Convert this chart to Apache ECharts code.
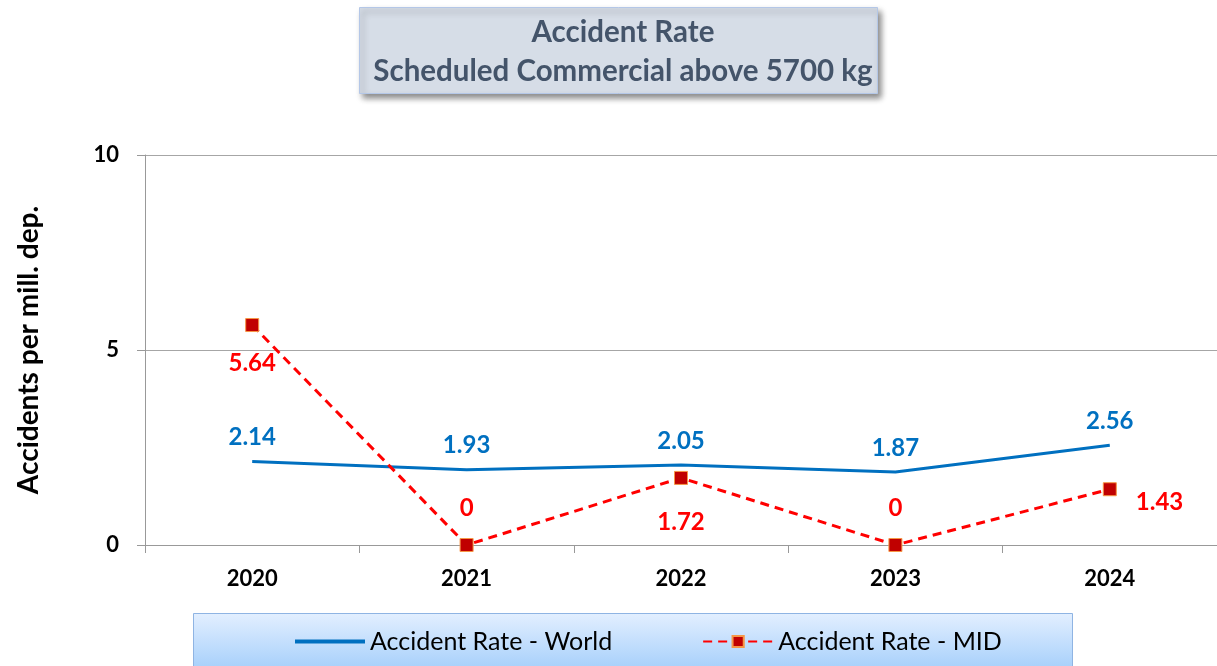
<!DOCTYPE html>
<html><head><meta charset="utf-8">
<script src="https://cdn.jsdelivr.net/npm/echarts@6/dist/echarts.min.js"></script>
<style>html,body{margin:0;padding:0;background:#fff}#c{width:1217px;height:666px}</style>
</head><body><div id="c"></div>
<script>
var years = ['2020','2021','2022','2023','2024'];
var worldRate = [2.14, 1.93, 2.05, 1.87, 2.56];
var midRate = [5.64, 0, 1.72, 0, 1.43];
var yTicks = [0, 5, 10];
var seriesNames = ['Accident Rate - World', 'Accident Rate - MID'];
var titleLines = ['Accident Rate', 'Scheduled Commercial above 5700 kg'];

var FONT = 'Lato, "Open Sans", sans-serif';
var midLabelPos = ['bottom','top','bottom','top','right'];
var midLabelDist = [19, 18, 25, 18, 19];
var midLabelOffset = [[0,0],[0,0],[0,0],[0,13]];
midLabelOffset.splice(0, 0, [0,0]);

var chart = echarts.init(document.getElementById('c'));
chart.setOption({
  animation: false,
  graphic: [
    { type: 'rect', left: 359, top: 7, z: 0,
      shape: { width: 518, height: 86 },
      style: { fill: '#d6dde7', stroke: '#b4c7e7', lineWidth: 1,
               shadowBlur: 6, shadowOffsetX: 3, shadowOffsetY: 4, shadowColor: 'rgba(0,0,0,0.45)' } },
    { type: 'rect', left: 193, top: 613, z: 0,
      shape: { width: 879, height: 53 },
      style: { fill: new echarts.graphic.LinearGradient(0,0,0,1,[{offset:0,color:'#e3efff'},{offset:1,color:'#a9d1fb'}]),
               stroke: '#8fb4e3', lineWidth: 1 } }
  ],
  title: {
    text: titleLines.join('\n'),
    left: 618, top: 8, textAlign: 'center',
    textStyle: { fontFamily: FONT, fontSize: 29.5, fontWeight: 'bold', color: '#44546a', lineHeight: 39 }
  },
  legend: {
    data: [
      { name: seriesNames[0], icon: 'path://M0,0H70V4H0Z', itemStyle: { color: '#0070c0' } },
      { name: seriesNames[1] }
    ],
    left: 290, top: 624,
    itemWidth: 70, itemHeight: 14, itemGap: 90, symbolKeepAspect: true,
    textStyle: { fontFamily: FONT, fontSize: 25, color: '#000' }
  },
  grid: { left: 145, right: 0, top: 155, bottom: 121, containLabel: false },
  xAxis: {
    type: 'category', data: years, boundaryGap: true,
    axisLine: { lineStyle: { color: '#999', width: 1 } },
    axisTick: { show: true, length: 8, lineStyle: { color: '#999' } },
    axisLabel: { fontFamily: FONT, fontSize: 22, fontWeight: 'bold', color: '#000', margin: 23 }
  },
  yAxis: {
    type: 'value', min: yTicks[0], max: yTicks[yTicks.length-1], interval: yTicks[1]-yTicks[0],
    name: 'Accidents per mill. dep.', nameLocation: 'middle', nameGap: 102,
    nameTextStyle: { fontFamily: FONT, fontSize: 28, fontWeight: 'bold', color: '#000' },
    axisLine: { show: true, lineStyle: { color: '#999' } },
    axisTick: { show: true, length: 8, lineStyle: { color: '#999' } },
    splitLine: { lineStyle: { color: '#a6a6a6' } },
    axisLabel: { fontFamily: FONT, fontSize: 22, fontWeight: 'bold', color: '#000', margin: 26 }
  },
  series: [
    { name: seriesNames[0], type: 'line', data: worldRate, symbol: 'circle', symbolSize: 0, showSymbol: true,
      lineStyle: { color: '#0070c0', width: 3 }, itemStyle: { color: '#0070c0' },
      label: { show: true, position: 'top', distance: 12, fontFamily: FONT, fontSize: 24, fontWeight: 'bold', color: '#0070c0' } },
    { name: seriesNames[1], type: 'line',
      data: midRate.map(function(v,i){ return { value: v, label: { position: midLabelPos[i], distance: midLabelDist[i], offset: midLabelOffset[i] } }; }),
      symbol: 'rect', symbolSize: 13,
      lineStyle: { color: '#ff0000', width: 3, type: [9, 6] },
      itemStyle: { color: '#c00000', borderColor: '#f79646', borderWidth: 1 },
      label: { show: true, fontFamily: FONT, fontSize: 24, fontWeight: 'bold', color: '#ff0000' } }
  ]
});
</script></body></html>
